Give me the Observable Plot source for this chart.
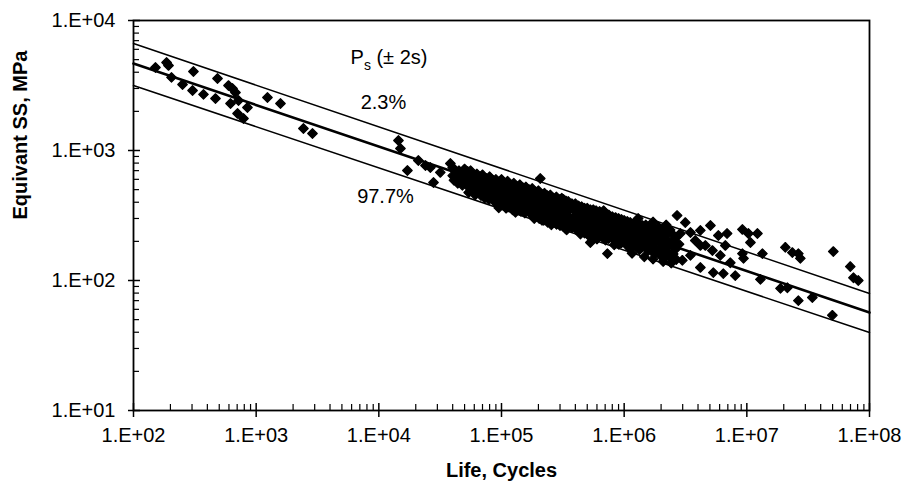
<!DOCTYPE html>
<html><head><meta charset="utf-8">
<script src="https://cdn.jsdelivr.net/npm/d3@7"></script>
<script src="https://cdn.jsdelivr.net/npm/@observablehq/plot@0.6"></script>
<style>body{margin:0;background:#fff;} #chart svg{display:block;}</style>
</head><body><div id="chart"></div>
<script>
// ---- data ----
const xTicks = [1e2, 1e3, 1e4, 1e5, 1e6, 1e7, 1e8];
const xTickLabels = ["1.E+02", "1.E+03", "1.E+04", "1.E+05", "1.E+06", "1.E+07", "1.E+08"];
const yTicks = [1e1, 1e2, 1e3, 1e4];
const yTickLabels = ["1.E+01", "1.E+02", "1.E+03", "1.E+04"];

// fitted lines (Life endpoints, stress at endpoints)
const lineLife = [1e2, 1e8];
const meanSS = [4670, 56.7];
const upperSS = [6650, 79.4];   // 2.3 %
const lowerSS = [3160, 39.8];   // 97.7 %

// test points [life, equivalent SS]
const lowCyclePoints = [
  [151,4350],[186,4750],[193,4510],[204,3650],[251,3220],[308,4050],[303,2895],[372,2700],
  [466,2510],[484,3580],[595,3160],[641,2997],[678,2795],[618,2300],[718,2425],[849,2143],
  [705,1927],[788,1763],[1236,2558],[1578,2300],[2428,1477],[2877,1351]
];
const midPoints = [
  [14450,1194],[15000,1036],[17100,702],[21000,838],[24000,767],[26300,740],[27900,567],
  [31700,678],[38300,794],[43700,665]
];
const clusterPoints = [
  [4.0e4,740],[4.0e4,640],[4.1e4,590],
  [4.5e4,700],[4.6e4,610],[4.4e4,560],
  [5.0e4,720],[5.1e4,660],[4.9e4,600],[5.2e4,540],
  [5.6e4,700],[5.5e4,640],[5.7e4,580],[5.8e4,520],[5.4e4,475],
  [6.3e4,660],[6.2e4,610],[6.5e4,560],[6.4e4,500],[6.1e4,455],
  [7.0e4,650],[7.2e4,590],[6.9e4,540],[7.1e4,480],[7.3e4,430],
  [8.0e4,630],[7.8e4,570],[8.2e4,520],[8.1e4,470],[7.9e4,420],
  [9.0e4,600],[9.2e4,550],[8.8e4,500],[9.1e4,450],[8.9e4,400],
  [1.0e5,600],[1.02e5,540],[0.98e5,500],[1.01e5,450],[0.99e5,410],[1.03e5,380],
  [1.12e5,580],[1.1e5,520],[1.14e5,480],[1.11e5,440],[1.13e5,400],[1.09e5,360],
  [1.26e5,560],[1.24e5,510],[1.28e5,470],[1.25e5,430],[1.27e5,390],[1.23e5,350],
  [1.41e5,545],[1.43e5,490],[1.39e5,450],[1.42e5,410],[1.4e5,370],[1.44e5,340],
  [1.58e5,525],[1.56e5,470],[1.6e5,440],[1.57e5,400],[1.59e5,360],[1.55e5,330],
  [1.78e5,510],[1.8e5,460],[1.76e5,420],[1.79e5,390],[1.77e5,350],[1.81e5,310],
  [2.07e5,609],[2.0e5,490],[1.98e5,440],[2.02e5,400],[2.01e5,370],[1.99e5,330],[2.03e5,300],
  [2.24e5,470],[2.22e5,430],[2.26e5,390],[2.23e5,360],[2.25e5,320],[2.21e5,290],
  [2.5e5,455],[2.48e5,410],[2.52e5,380],[2.49e5,350],[2.51e5,310],[2.47e5,280],
  [2.8e5,440],[2.83e5,400],[2.78e5,370],[2.82e5,330],[2.79e5,300],[2.81e5,270],
  [3.2e5,420],[3.15e5,380],[3.22e5,350],[3.18e5,320],[3.21e5,290],[3.17e5,262],
  [3.5e5,405],[3.55e5,370],[3.48e5,340],[3.52e5,310],[3.53e5,280],
  [4.0e5,390],[3.95e5,350],[4.05e5,320],[4.02e5,300],[3.98e5,270],[4.03e5,250],
  [4.5e5,370],[4.55e5,340],[4.45e5,310],[4.52e5,290],[4.48e5,260],[4.53e5,240],
  [5.0e5,360],[5.05e5,330],[4.95e5,300],[5.02e5,280],[4.98e5,250],[5.04e5,226],
  [5.3e5,196],
  [5.6e5,350],[5.65e5,320],[5.55e5,290],[5.62e5,270],[5.58e5,240],[5.63e5,216],
  [6.3e5,340],[6.25e5,310],[6.35e5,280],[6.28e5,260],[6.32e5,230],
  [7.0e5,330],[7.05e5,300],[6.95e5,270],[7.02e5,250],[6.98e5,225],[7.04e5,205],
  [7.3e5,161],
  [8.0e5,310],[8.05e5,290],[7.95e5,260],[8.02e5,240],[7.98e5,215],
  [9.0e5,300],[9.05e5,280],[8.95e5,250],[9.02e5,230],[8.98e5,210],[9.04e5,190],
  [1.0e6,290],[1.01e6,270],[0.99e6,240],[1.02e6,220],[0.98e6,200],
  [1.12e6,280],[1.13e6,260],[1.11e6,235],[1.14e6,215],[1.1e6,195],[1.12e6,176],
  [1.26e6,275],[1.27e6,250],[1.25e6,225],[1.28e6,205],[1.24e6,185],
  [1.41e6,265],[1.42e6,240],[1.4e6,215],[1.43e6,195],[1.39e6,180],
  [1.58e6,255],[1.6e6,230],[1.56e6,210],[1.59e6,190],[1.57e6,170],
  [1.78e6,245],[1.8e6,225],[1.76e6,200],[1.79e6,180],[1.77e6,160],
  [2.0e6,240],[2.02e6,215],[1.98e6,195],[2.01e6,175],[1.99e6,155],
  [2.24e6,230],[2.26e6,205],[2.22e6,185],[2.25e6,165],
  [2.5e6,225],[2.52e6,200],[2.48e6,180],[2.51e6,160],
  [2.7e6,316],[2.87e6,230],[2.8e6,190]
];
const clusterFillPoints = [
  [4.25e4,680],[4.75e4,630],[4.8e4,540],[5.3e4,690],[5.35e4,570],[5.9e4,610],[6.0e4,540],
  [6.7e4,630],[6.6e4,510],[6.8e4,450],[7.5e4,610],[7.6e4,500],[7.7e4,440],[8.5e4,590],
  [8.4e4,540],[8.6e4,440],[8.7e4,410],[9.5e4,570],[9.6e4,470],[9.7e4,420],[1.06e5,560],
  [1.05e5,490],[1.07e5,430],[1.08e5,390],[1.18e5,540],[1.19e5,460],[1.2e5,410],[1.17e5,370],
  [1.33e5,530],[1.32e5,450],[1.34e5,400],[1.35e5,360],[1.5e5,515],[1.49e5,460],[1.48e5,380],
  [1.51e5,345],[1.68e5,500],[1.67e5,450],[1.69e5,370],[1.7e5,330],[1.9e5,480],[1.88e5,410],
  [1.89e5,340],[1.91e5,315],[2.12e5,460],[2.13e5,380],[2.11e5,320],[2.14e5,290],[2.37e5,450],
  [2.36e5,370],[2.35e5,340],[2.38e5,280],[2.65e5,430],[2.64e5,360],[2.66e5,320],[2.63e5,285],
  [3.0e5,420],[2.98e5,355],[3.02e5,300],[3.0e5,265],[3.35e5,410],[3.37e5,330],[3.36e5,270],
  [3.33e5,250],[3.75e5,390],[3.77e5,360],[3.73e5,290],[3.76e5,255],[4.25e5,375],[4.23e5,330],
  [4.27e5,280],[4.24e5,245],[4.75e5,360],[4.73e5,320],[4.77e5,270],[4.76e5,232],[5.3e5,350],
  [5.28e5,310],[5.32e5,260],[5.9e5,345],[5.95e5,300],[5.92e5,250],[5.88e5,222],[6.6e5,330],
  [6.65e5,290],[6.62e5,245],[6.7e5,215],[7.5e5,320],[7.45e5,280],[7.55e5,235],[7.48e5,210],
  [8.5e5,305],[8.45e5,270],[8.55e5,225],[8.48e5,200],[9.5e5,295],[9.45e5,260],[9.55e5,220],
  [9.52e5,195],[1.06e6,285],[1.05e6,250],[1.07e6,210],[1.06e6,185],[1.19e6,275],[1.18e6,245],
  [1.2e6,205],[1.34e6,270],[1.33e6,230],[1.35e6,200],[1.33e6,172],[1.5e6,268],[1.49e6,225],
  [1.51e6,185],[1.68e6,262],[1.67e6,215],[1.69e6,175],[1.9e6,258],[1.88e6,210],[1.91e6,165],
  [2.12e6,252],[2.11e6,200],[2.13e6,150],[2.37e6,245],[2.36e6,190],[2.38e6,150],[2.65e6,215],
  [2.64e6,175],[2.66e6,145]
];
const clusterEdgePoints = [
  [0.95e5,362],[1.3e5,335],[1.85e5,300],[2.55e5,268],[3.4e5,245],[4.4e5,228],[6.0e5,208],
  [8.3e5,188],[1.16e6,162],[1.46e6,152],[1.72e6,146],[2.08e6,140],[2.42e6,136],
  [1.3e6,300],[1.72e6,282],[2.2e6,268],[6.8e5,345],[3.1e5,430]
];
const highCyclePoints = [
  [3.15e6,279],[3.47e6,234],[3.8e6,203],[4.18e6,243],[4.59e6,186],[5.05e6,265],[5.24e6,170],
  [5.86e6,222],[6.08e6,156],[6.68e6,186],[3.47e6,156],[2.98e6,143],[4.18e6,186],[7.33e6,137],
  [6.9e6,230],[9.2e6,247],[1.03e7,230],[1.22e7,230],[1.07e7,196],[9.2e6,161],[9.4e6,148],
  [1.34e7,161],[2.06e7,180],[2.35e7,164],[2.63e7,161],[2.73e7,148],[5.07e7,167],[6.97e7,128],
  [7.4e7,105],[8.1e7,100],
  [4.18e6,126],[5.33e6,115],[6.43e6,113],[8.05e6,109],[1.29e7,102],[1.88e7,87],[2.14e7,88],
  [2.63e7,70],[3.42e7,74],[4.98e7,54]
];

// annotation anchors [life, SS]
const psLabelAt = [5870, 5190];
const upperLabel = {text: "2.3%", at: [1.09e4, 2340]};
const lowerLabel = {text: "97.7%", at: [1.133e4, 443]};

// ---- layout ----
const W = 912, H = 495;
const mL = 133, mR = 43, mT = 20, mB = 85;
const plotW = W - mL - mR, plotH = H - mT - mB;

const minorX = [];
for (let e = 2; e < 8; e++) for (let m = 2; m <= 9; m++) minorX.push(m * 10 ** e);
const minorY = [];
for (let e = 1; e < 4; e++) for (let m = 2; m <= 9; m++) minorY.push(m * 10 ** e);

const allPoints = [...lowCyclePoints, ...midPoints, ...clusterPoints, ...clusterFillPoints,
  ...clusterEdgePoints, ...highCyclePoints];
const lineData = (ys) => lineLife.map((x, i) => ({x, y: ys[i]}));

const chart = Plot.plot({
  width: W, height: H,
  marginLeft: mL, marginRight: mR, marginTop: mT, marginBottom: mB,
  style: {fontFamily: "'Liberation Sans', Arial, sans-serif", fontSize: "20px", background: "white", color: "black"},
  x: {type: "log", domain: [1e2, 1e8], axis: null},
  y: {type: "log", domain: [1e1, 1e4], axis: null},
  marks: [
    Plot.line(lineData(upperSS), {x: "x", y: "y", stroke: "black", strokeWidth: 1.5}),
    Plot.line(lineData(lowerSS), {x: "x", y: "y", stroke: "black", strokeWidth: 1.5}),
    Plot.line(lineData(meanSS), {x: "x", y: "y", stroke: "black", strokeWidth: 2.6}),
    Plot.dot(allPoints, {x: d => d[0], y: d => d[1], symbol: "diamond2", r: 4.3, fill: "black",
      stroke: "black", strokeWidth: 1.2, strokeLinejoin: "round"}),
    Plot.frame({stroke: "black", strokeWidth: 1.8}),
    Plot.tickX(minorX, {x: d => d, insetTop: plotH - 6, stroke: "black", strokeWidth: 1.2}),
    Plot.tickX(xTicks, {x: d => d, insetTop: plotH - 7, insetBottom: -7, stroke: "black", strokeWidth: 1.5}),
    Plot.tickY(minorY, {y: d => d, insetRight: plotW - 6, stroke: "black", strokeWidth: 1.2}),
    Plot.tickY(yTicks, {y: d => d, insetRight: plotW - 7, insetLeft: -5, stroke: "black", strokeWidth: 1.5}),
    Plot.axisX(xTicks, {tickSize: 0, tickPadding: 17, fontSize: 20, label: null,
      tickFormat: d => xTickLabels[xTicks.indexOf(d)]}),
    Plot.axisY(yTicks, {tickSize: 0, tickPadding: 18, fontSize: 20, label: null,
      tickFormat: d => yTickLabels[yTicks.indexOf(d)]}),
    Plot.text(["Life, Cycles"], {frameAnchor: "bottom", dy: 66, fontSize: 20, fontWeight: "bold"}),
    Plot.text(["Equivant SS, MPa"], {frameAnchor: "left", dx: -113, dy: 4, rotate: -90, fontSize: 20, fontWeight: "bold"}),
    Plot.text([psLabelAt], {x: d => d[0], y: d => d[1], text: () => "P", textAnchor: "start", fontSize: 20}),
    Plot.text([psLabelAt], {x: d => d[0], y: d => d[1], text: () => "s", textAnchor: "start", dx: 13.5, dy: 8, fontSize: 14}),
    Plot.text([psLabelAt], {x: d => d[0], y: d => d[1], text: () => "(± 2s)", textAnchor: "start", dx: 26, fontSize: 20}),
    Plot.text([upperLabel], {x: d => d.at[0], y: d => d.at[1], text: "text", fontSize: 20}),
    Plot.text([lowerLabel], {x: d => d.at[0], y: d => d.at[1], text: "text", fontSize: 20})
  ]
});
document.getElementById("chart").appendChild(chart);
</script>
</body></html>
